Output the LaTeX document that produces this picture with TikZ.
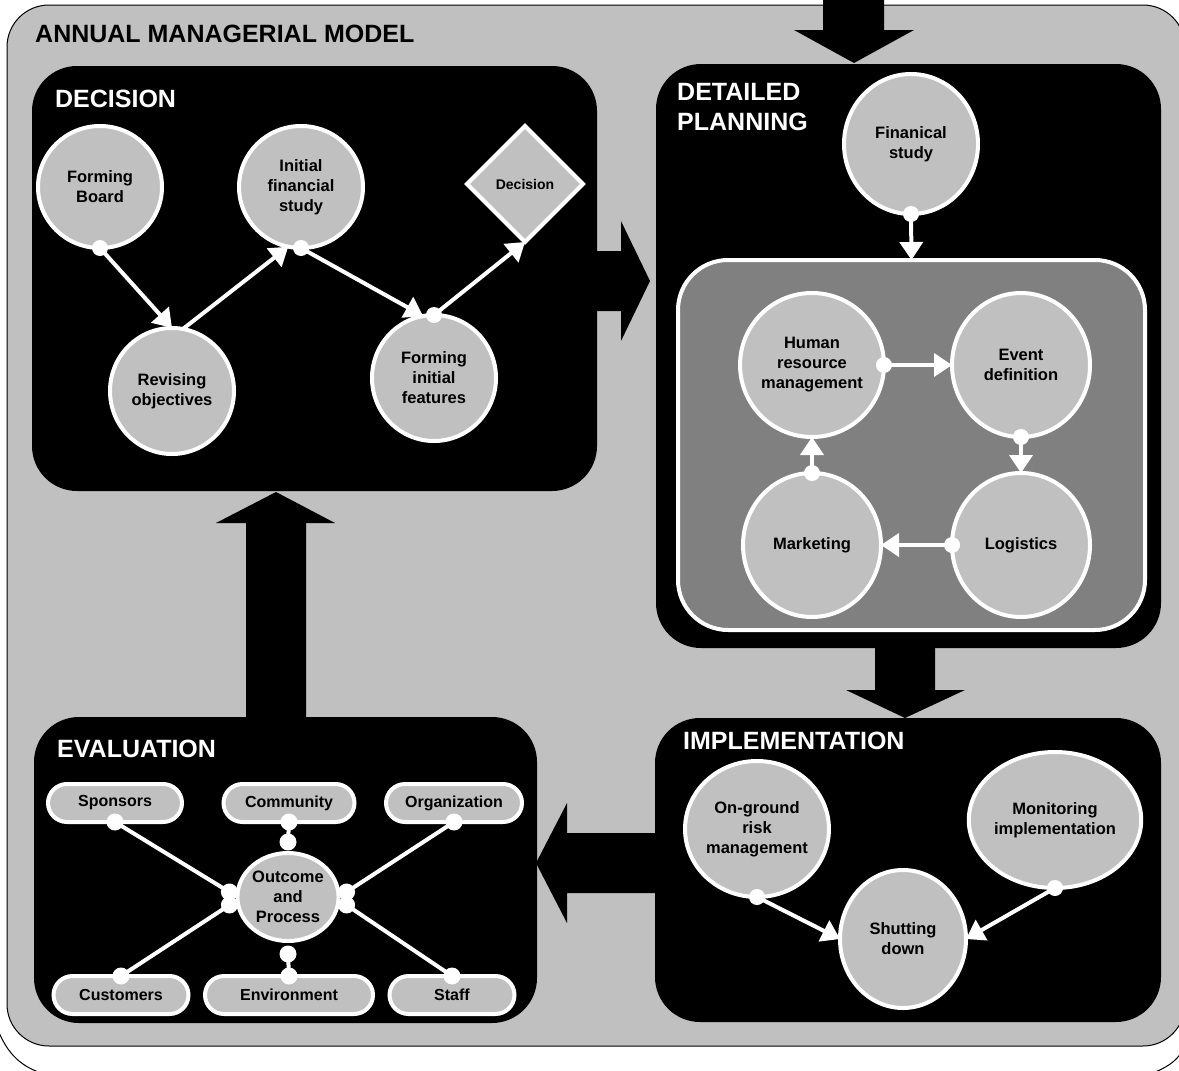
\documentclass[tikz,border=0pt]{standalone}
\usepackage{fontspec}
\setmainfont{Liberation Sans}
\usetikzlibrary{shapes.geometric,arrows.meta,calc}
\definecolor{silv}{HTML}{C0C0C0}
\definecolor{midg}{HTML}{808080}
\begin{document}
\begin{tikzpicture}[x=1pt,y=-1pt,
  proc/.style={ellipse, draw=white, line width=4pt, fill=silv, inner sep=0pt, outer sep=0pt, align=center, font=\bfseries\fontsize{16.5}{20}\selectfont},
  pill/.style={rectangle, rounded corners=19pt, draw=white, line width=4pt, fill=silv, minimum height=38pt, inner sep=0pt, outer sep=0pt, font=\bfseries\fontsize{16}{20}\selectfont},
  conn/.style={draw=white, line width=4pt, -{Triangle[length=18pt,width=23pt]}},
  link/.style={draw=white, line width=4pt},
  ttl/.style={text=white, font=\bfseries\fontsize{25}{30}\selectfont, anchor=base west, inner sep=0pt},
  blk/.style={fill=black, rounded corners=45pt}
]
\useasboundingbox (0,0) rectangle (1179,1071);
\clip (0,0) rectangle (1179,1071);
\fill[white] (0,0) rectangle (1179,1071);
% back outline arcs
\draw[line width=1pt] (-2,1030) .. controls (8,1055) and (22,1067) .. (44,1074);
\draw[line width=1pt] (1183,1050) .. controls (1176,1062) and (1166,1068) .. (1150,1074);
% outer frame
\draw[fill=silv, line width=1pt, rounded corners=42pt] (7,5) rectangle (1185,1046);
\node[ttl, text=black] (title) at (35,42) {ANNUAL MANAGERIAL MODEL};
% phase boxes
\fill[blk] (32,66) rectangle (597,491);
\fill[blk] (656,64) rectangle (1161,648);
\fill[blk] (655,718) rectangle (1161,1022);
\fill[blk] (34,717) rectangle (537,1023);
% block arrows
\fill (823,-5) -- (884,-5) -- (884,30) -- (914,30) -- (854,63) -- (794,30) -- (823,30) -- cycle;
\fill (590,251) -- (621,251) -- (621,221) -- (650,281) -- (621,341) -- (621,311) -- (590,311) -- cycle;
\fill (875,640) -- (935,640) -- (935,690) -- (965,690) -- (905,718) -- (846,690) -- (875,690) -- cycle;
\fill (246,725) -- (306,725) -- (306,523) -- (335,523) -- (276,492) -- (216,523) -- (246,523) -- cycle;
\fill (662,833) -- (567,833) -- (567,803) -- (536,863) -- (567,923) -- (567,893) -- (662,893) -- cycle;
% titles
\node[ttl] (tdec) at (55,107) {DECISION};
\node[ttl] (tplan1) at (677,100) {DETAILED};
\node[ttl] (tplan2) at (677,130) {PLANNING};
\node[ttl] (timpl) at (683,749) {IMPLEMENTATION};
\node[ttl] (teval) at (57,757) {EVALUATION};
% DECISION nodes
\node[proc, minimum width=124pt, minimum height=122pt] (fb) at (100,187) {Forming\\Board};
\node[proc, minimum width=124pt, minimum height=122pt] (ifs) at (301,187) {Initial\\financial\\study};
\node[diamond, draw=white, line width=4pt, fill=silv, inner sep=0pt, outer sep=0pt, minimum width=116pt, minimum height=116pt, font=\bfseries\fontsize{14}{17}\selectfont] (dia) at (525,184) {Decision};
\node[proc, minimum width=124pt, minimum height=126pt] (rev) at (172,391) {Revising\\objectives};
\node[proc, minimum width=124pt, minimum height=126pt] (fif) at (434,378) {Forming\\initial\\features};
\draw[conn] (fb.south) -- (rev.north);
\fill[white] (fb.south) circle[radius=8pt];
\draw[conn] (rev.80) -- (ifs.258);
\draw[conn] (ifs.south) -- (fif.100);
\fill[white] (ifs.south) circle[radius=8pt];
\draw[conn] (fif.north) -- (dia.south);
\fill[white] (fif.north) circle[radius=8pt];
% DETAILED PLANNING nodes
\node[proc, minimum width=134pt, minimum height=140pt] (fin) at (911,144) {Finanical\\study};
\node[draw=white, line width=4pt, fill=midg, rounded corners=50pt, minimum width=467pt, minimum height=370pt, inner sep=0pt, outer sep=0pt] (inner) at (911.5,445) {};
\draw[conn] (fin.south) -- (inner.north);
\fill[white] (fin.south) circle[radius=8pt];
\node[proc, minimum width=138pt, minimum height=144pt] (hrm) at (812,365) {Human\\resource\\management};
\node[proc, minimum width=138pt, minimum height=144pt] (evt) at (1021,365) {Event\\definition};
\node[proc, minimum width=138pt, minimum height=144pt] (mkt) at (812,545) {Marketing};
\node[proc, minimum width=138pt, minimum height=144pt] (lgs) at (1021,545) {Logistics};
\draw[conn] (hrm.east) -- (evt.west);
\fill[white] (hrm.east) circle[radius=8pt];
\draw[conn] (evt.south) -- (lgs.north);
\fill[white] (evt.south) circle[radius=8pt];
\draw[conn] (lgs.west) -- (mkt.east);
\fill[white] (lgs.west) circle[radius=8pt];
\draw[conn] (mkt.north) -- (hrm.south);
\fill[white] (mkt.north) circle[radius=8pt];
% IMPLEMENTATION nodes
\node[proc, minimum width=138pt, minimum height=136pt] (og) at (757,829) {On-ground\\risk\\management};
\node[proc, minimum width=144pt, minimum height=136pt] (mon) at (1055,820) {Monitoring\\implementation};
\node[proc, minimum width=126pt, minimum height=138pt] (shut) at (903,939) {Shutting\\down};
\draw[conn] (og.south) -- (shut.west);
\fill[white] (og.south) circle[radius=8pt];
\draw[conn] (mon.south) -- (shut.east);
\fill[white] (mon.south) circle[radius=8pt];
% EVALUATION nodes
\node[pill, minimum width=134pt] (sp) at (115,803) {Sponsors};
\node[pill, minimum width=131pt] (com) at (289,803) {Community};
\node[pill, minimum width=136pt] (org) at (454,803) {Organization};
\node[pill, minimum width=135pt] (cus) at (121,995) {Customers};
\node[pill, minimum width=168pt] (env) at (289,995) {Environment};
\node[pill, minimum width=125pt] (stf) at (452,995) {Staff};
\node[proc, minimum width=98pt, minimum height=88pt] (outc) at (288,897) {Outcome\\and\\Process};
\coordinate (oL1) at ($(outc.west)+(-8,-5)$);
\coordinate (oL2) at ($(outc.west)+(-8,8)$);
\coordinate (oR1) at ($(outc.east)+(8,-5)$);
\coordinate (oR2) at ($(outc.east)+(8,8)$);
\coordinate (oT) at ($(outc.north)+(0,-11)$);
\coordinate (oB) at ($(outc.south)+(0,13)$);
\draw[link] (sp.south) -- (oL1);
\draw[link] (cus.north) -- (oL2);
\draw[link] (com.south) -- (oT);
\draw[link] (env.north) -- (oB);
\draw[link] (org.south) -- (oR1);
\draw[link] (stf.north) -- (oR2);
\foreach \p in {sp.south,cus.north,com.south,env.north,org.south,stf.north,oL1,oL2,oR1,oR2,oT,oB}
  \fill[white] (\p) circle[radius=8.5pt];
\end{tikzpicture}
\end{document}
